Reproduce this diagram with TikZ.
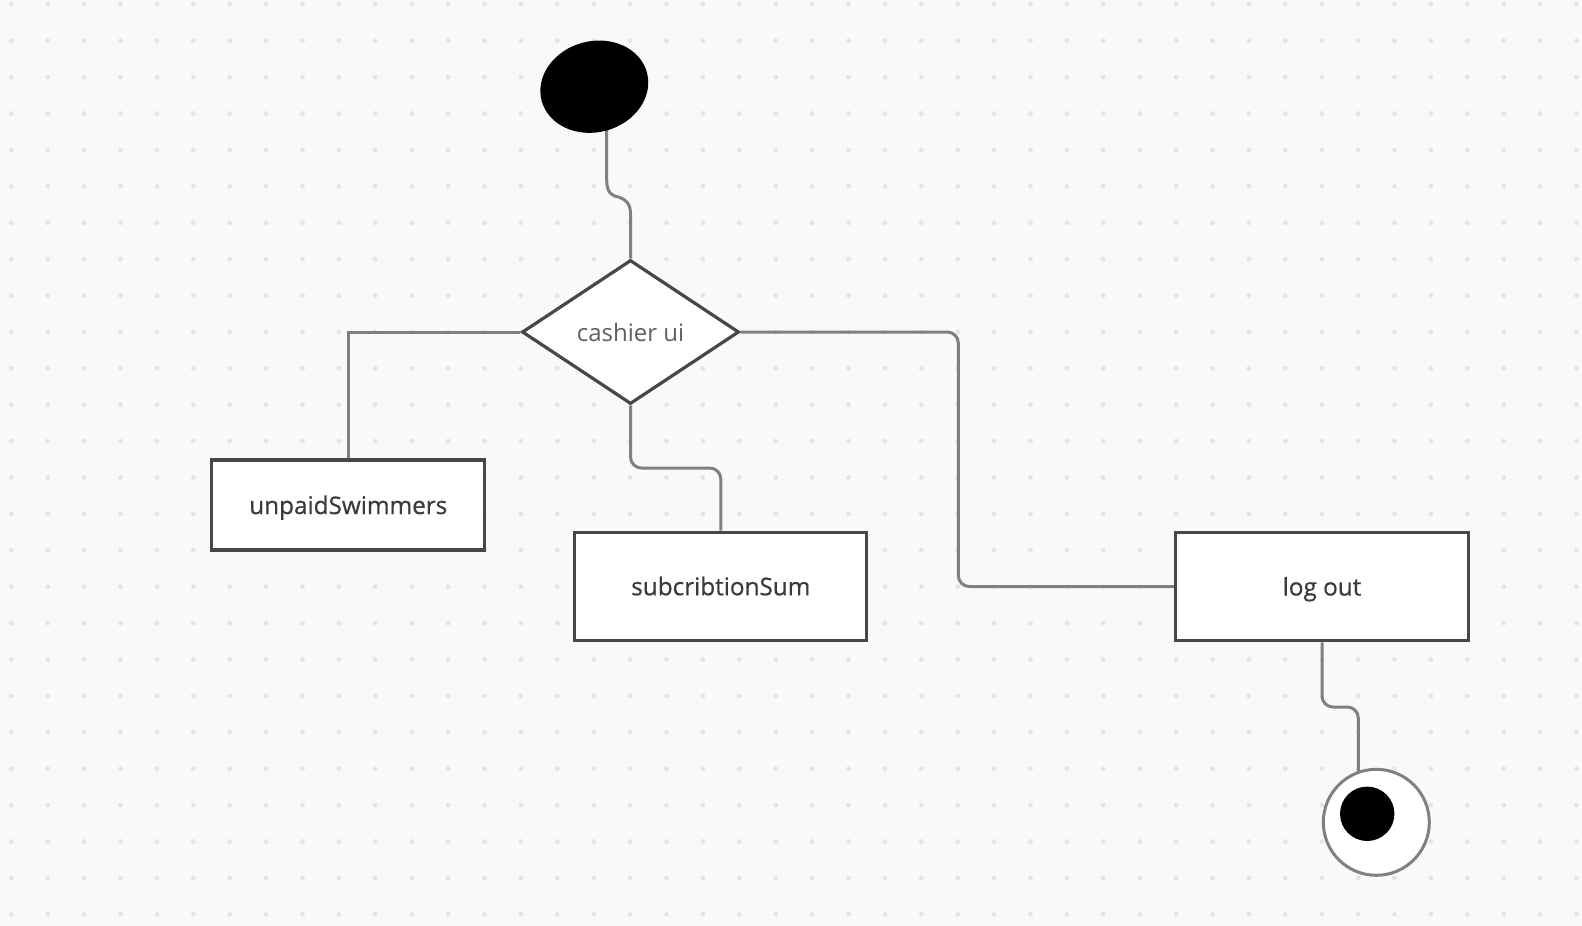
\documentclass[tikz,border=0pt]{standalone}
\usepackage{fontspec}
\setmainfont{Open Sans}
\newfontfamily\boxfont[FakeBold=0.6]{Open Sans}
\usetikzlibrary{shapes.geometric}
\definecolor{bgc}{HTML}{F9F9FB}
\definecolor{dotc}{HTML}{E4E4E9}
\definecolor{edgec}{HTML}{474747}
\definecolor{connc}{HTML}{808080}
\definecolor{txtc}{HTML}{3A3A3A}
\definecolor{txtd}{HTML}{606060}
\pgfdeclarelayer{bgl}
\pgfdeclarelayer{cl}
\pgfsetlayers{bgl,cl,main}
\begin{document}
\begin{tikzpicture}[x=1pt,y=-1pt,
  box/.style={draw=edgec, line width=3.2pt, fill=white, inner sep=0pt,
    font=\boxfont\fontsize{24.3}{28}\selectfont, text=txtc,
    text height=18pt, text depth=0pt},
  wire/.style={draw=connc, line width=3pt, rounded corners=11pt}]
\begin{pgfonlayer}{bgl}
\fill[bgc] (0,0) rectangle (1582,926);
\foreach \i in {0,...,43}{\foreach \j in {0,...,25}{\fill[dotc] (11.3+36.4*\i, 4.3+36.4*\j) circle (2.4pt);}}
\end{pgfonlayer}
\useasboundingbox (0,0) rectangle (1582,926);

\node[ellipse, fill=black, minimum width=109pt, minimum height=91pt, inner sep=0pt, rotate=15] (start) at (594.3,86.7) {};
\node[box, diamond, aspect=1.507, minimum width=217pt, minimum height=144pt, text=txtd,
  font=\rmfamily\fontsize{24}{28}\selectfont] (ui) at (630.5,332) {cashier ui};
\node[box, minimum width=273pt, minimum height=90pt] (unpaid) at (348.3,505) {unpaidSwimmers};
\node[box, minimum width=292pt, minimum height=108pt] (sum) at (720.8,586.2) {subcribtionSum};
\node[box, minimum width=292.6pt, minimum height=108.4pt] (logout) at (1322,586.5) {log out};
\node[circle, draw=connc, line width=3pt, fill=white, minimum size=106pt, inner sep=0pt] (end) at (1376.3,822.3) {};
\node[circle, fill=black, minimum size=54.4pt, inner sep=0pt] (enddot) at (1367.2,813.8) {};

\coordinate (s0) at (606.7,115);
\coordinate (sa) at (606.7,180);
\coordinate (sb) at (630.5,214);
\coordinate (m1) at (0,468);
\coordinate (m2) at (0,707);
\coordinate (rx) at (958.3,0);
\coordinate (e1) at (1358.3,790);

\begin{pgfonlayer}{cl}
\draw[wire, rounded corners=0pt] (s0) -- (sa) .. controls (606.7,194) and (613,196) .. (618.5,197)
  .. controls (625,199) and (630.5,203) .. (sb) -- (ui.north);
\draw[wire, rounded corners=0pt] (ui.west) -| (unpaid.north);
\draw[wire] (ui.south) -- (ui.south |- m1) -| (sum.north);
\draw[wire] (ui.east) -| (rx |- logout.west) -- (logout.west);
\draw[wire] (logout.south) -- (logout.south |- m2) -| (e1);
\end{pgfonlayer}
\end{tikzpicture}
\end{document}
